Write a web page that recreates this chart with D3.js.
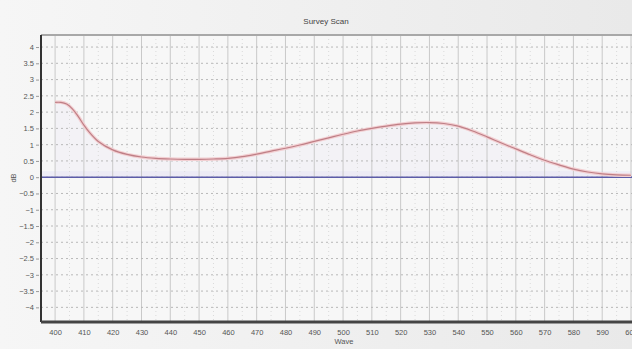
<!DOCTYPE html>
<html><head><meta charset="utf-8">
<script src="https://cdn.jsdelivr.net/npm/d3@7"></script>
<style>body{margin:0;overflow:hidden;background:#f2f2f2}svg{display:block}text{font-family:"Liberation Sans",Arial,sans-serif}</style>
</head><body><svg id="c" width="632" height="349"></svg>
<script>
const title = "Survey Scan";
const xLabel = "Wave";
const yLabel = "dB";
const wave = [400,402,404,406,408,410,412,415,420,425,430,435,440,445,450,455,460,465,470,475,480,485,490,495,500,505,510,515,520,525,530,535,540,545,550,555,560,565,570,575,580,585,590,595,600];
const dB   = [2.30,2.30,2.25,2.10,1.87,1.60,1.37,1.10,0.84,0.70,0.62,0.58,0.56,0.55,0.55,0.56,0.58,0.63,0.71,0.80,0.89,0.99,1.10,1.21,1.32,1.42,1.50,1.57,1.63,1.67,1.68,1.65,1.57,1.42,1.24,1.05,0.87,0.69,0.52,0.38,0.25,0.16,0.10,0.07,0.06];
const xTicks = d3.range(400, 601, 10);
const yTicks = d3.range(-4, 4.01, 0.5);

const svg = d3.select("#c");
const W = 632, H = 349;
const defs = svg.append("defs");
const g1 = defs.append("linearGradient").attr("id","bg").attr("x1",0).attr("x2",1);
g1.append("stop").attr("offset",0).attr("stop-color","#f6f6f6");
g1.append("stop").attr("offset",1).attr("stop-color","#e9e9e9");
svg.append("rect").attr("width",W).attr("height",H).attr("fill","url(#bg)");

const L = 41, T = 35, B = 322;
const x = d3.scaleLinear().domain([395.1, 600]).range([L, 631]);
const y = d3.scaleLinear().domain([-4.45, 4.37]).range([B, T]);
const R = W + 2;

svg.append("rect").attr("x",L).attr("y",T).attr("width",R-L).attr("height",B-T).attr("fill","#f7f7f7");

const crv = d3.curveCatmullRom.alpha(0.5);
const line = d3.line().x((d,i)=>x(wave[i])).y(d=>y(d)).curve(crv);
const area = d3.area().x((d,i)=>x(wave[i])).y0(y(0)).y1(d=>y(d)).curve(crv);
svg.append("path").attr("d",area(dB)).attr("fill","#efeef6").attr("opacity",0.5);
svg.append("rect").attr("x",L).attr("y",y(0)-6).attr("width",R-L).attr("height",6).attr("fill","#e9e8f5").attr("opacity",0.7);

// grid
const grid = svg.append("g");
grid.selectAll(".v").data(xTicks).join("line")
  .attr("x1",d=>x(d)).attr("x2",d=>x(d)).attr("y1",T).attr("y2",B)
  .attr("stroke","#c9c9c9").attr("stroke-width",1);
grid.selectAll(".v2").data(xTicks.map(d=>d+5)).join("line")
  .attr("x1",d=>x(d)).attr("x2",d=>x(d)).attr("y1",T).attr("y2",B)
  .attr("stroke","#dadada").attr("stroke-width",1).attr("stroke-dasharray","1,3");
grid.selectAll(".h").data(yTicks).join("line")
  .attr("x1",L).attr("x2",R).attr("y1",d=>y(d)).attr("y2",d=>y(d))
  .attr("stroke","#b8b8b8").attr("stroke-width",1).attr("stroke-dasharray","2,3");

// zero line
svg.append("line").attr("x1",L).attr("x2",R).attr("y1",y(0)).attr("y2",y(0))
  .attr("stroke","#5c5ca8").attr("stroke-width",1.5);

// curve
svg.append("path").attr("d",line(dB)).attr("fill","none").attr("stroke","#f2cfd2").attr("stroke-width",3.5);
svg.append("path").attr("d",line(dB)).attr("fill","none").attr("stroke","#bf7f86").attr("stroke-width",1.2);

// frame
svg.append("line").attr("x1",L).attr("x2",R).attr("y1",T).attr("y2",T).attr("stroke","#a8a8a8").attr("stroke-width",2);
svg.append("line").attr("x1",L).attr("x2",L).attr("y1",T).attr("y2",B).attr("stroke","#333").attr("stroke-width",2);
svg.append("line").attr("x1",L).attr("x2",R).attr("y1",B).attr("y2",B).attr("stroke","#444").attr("stroke-width",3);

// axes
const xa = svg.append("g").attr("transform",`translate(0,${B+1})`)
  .call(d3.axisBottom(x).tickValues(xTicks).tickSize(0).tickPadding(7).tickFormat(d3.format("d")));
xa.select(".domain").remove();
xa.selectAll("text").attr("font-size",7.5).attr("fill","#555");
const ya = svg.append("g").attr("transform",`translate(${L-2},0)`)
  .call(d3.axisLeft(y).tickValues(yTicks).tickSize(3).tickPadding(2).tickFormat(d=>d3.format("")(d)));
ya.select(".domain").remove();
ya.selectAll("line").attr("stroke","#999");
ya.selectAll("text").attr("font-size",7.5).attr("fill","#555");

svg.append("text").attr("x",326).attr("y",24).attr("text-anchor","middle").attr("font-size",8).attr("fill","#444").text(title);
svg.append("text").attr("x",344).attr("y",344).attr("text-anchor","middle").attr("font-size",7.5).attr("fill","#555").text(xLabel);
svg.append("text").attr("transform","translate(16,178) rotate(-90)").attr("text-anchor","middle").attr("font-size",7.5).attr("fill","#555").text(yLabel);
</script></body></html>
